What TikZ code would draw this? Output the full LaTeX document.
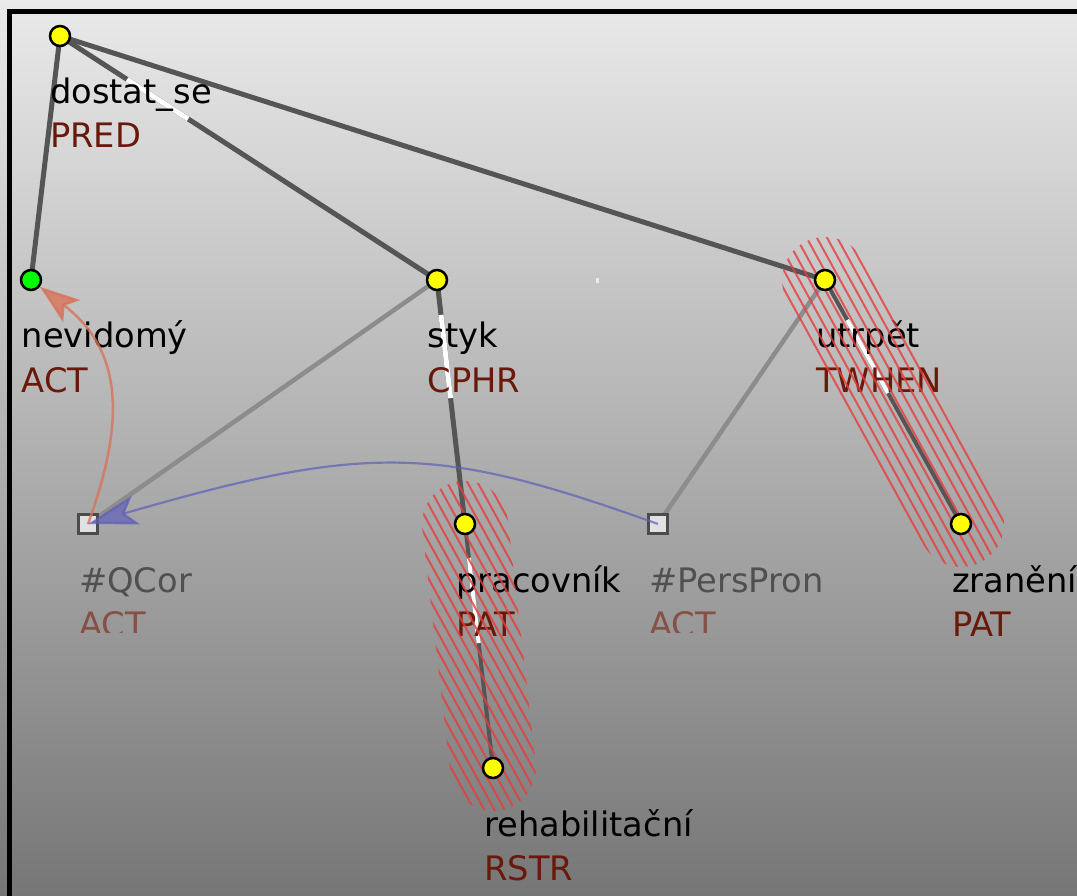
\documentclass[tikz,border=0pt]{standalone}
\usepackage{fontspec}
\setmainfont{DejaVu Sans}
\usetikzlibrary{arrows.meta,calc}
\definecolor{edgedark}{RGB}{85,85,85}
\definecolor{edgelight}{RGB}{140,140,140}
\definecolor{functor}{RGB}{105,25,10}
\definecolor{yel}{RGB}{255,255,0}
\definecolor{grn}{RGB}{0,255,0}
\definecolor{stripecol}{RGB}{232,60,60}
\definecolor{bluearr}{RGB}{95,95,185}
\definecolor{orarr}{RGB}{215,115,90}
\definecolor{graytext}{RGB}{80,80,80}
\definecolor{grayfunc}{RGB}{135,80,70}
\definecolor{bgtop}{RGB}{234,234,234}
\definecolor{bgbot}{RGB}{118,118,118}
\definecolor{sqborder}{RGB}{75,75,75}
\definecolor{sqfill}{RGB}{225,225,225}
\begin{document}
\begin{tikzpicture}[x=1pt,y=-1pt,
  tnode/.style={circle,draw=black,line width=2.5pt,fill=yel,minimum size=20pt,inner sep=0pt},
  gnode/.style={tnode,fill=grn},
  snode/.style={rectangle,draw=sqborder,line width=2.8pt,fill=sqfill,minimum size=19.5pt,inner sep=0pt},
  lemma/.style={anchor=base west,inner sep=0pt,font=\fontsize{33.7}{40}\selectfont},
  func/.style={lemma,text=functor},
  glemma/.style={lemma,text=graytext},
  gfunc/.style={lemma,text=grayfunc},
  edgeA/.style={draw=edgedark,line width=5pt},
  edgeB/.style={draw=edgedark,line width=4pt},
  edgeC/.style={draw=edgelight,line width=4.5pt},
  hl/.style={draw=white,line width=5pt},
  stripeln/.style={draw=stripecol,line width=2pt,opacity=.8},
]
\useasboundingbox (0,0) rectangle (1077,896);
\shade[top color=bgtop,bottom color=bgbot] (0,0) rectangle (1077,896);
\draw[line width=5pt,black] (9.5,905) -- (9.5,11.5) -- (1090,11.5);

% node positions
\coordinate (dostat) at (60,36);
\coordinate (nevid) at (31,280);
\coordinate (styk) at (437,280);
\coordinate (utrpet) at (825,280);
\coordinate (qcor) at (88,524);
\coordinate (prac) at (465,524);
\coordinate (pers) at (658,524);
\coordinate (zran) at (961,524);
\coordinate (rehab) at (493,768);

% edges
\draw[edgeC] (styk) -- (qcor);
\draw[edgeC] (utrpet) -- (pers);
\draw[edgeA] (dostat) -- (nevid);
\draw[edgeA] (dostat) -- (styk);
\draw[edgeA] (dostat) -- (utrpet);
\draw[edgeA] (styk) -- (prac);
\draw[edgeB] (utrpet) -- (zran);
\draw[edgeB] (prac) -- (rehab);

% white highlights on edges
\draw[hl] ($(dostat)!0.178!(styk)$) -- ($(dostat)!0.34!(styk)$);
\draw[hl] ($(styk)!0.143!(prac)$) -- ($(styk)!0.484!(prac)$);
\draw[hl,line width=4pt] ($(utrpet)!0.164!(zran)$) -- ($(utrpet)!0.463!(zran)$);
\draw[hl,line width=4pt] ($(prac)!0.139!(rehab)$) -- ($(prac)!0.488!(rehab)$);
\fill[white!85!gray] (596,278) rectangle (598.5,283);

% labels
\node[lemma] (dostatL) at ($(dostat)+(-10,68)$) {dostat\_se};
\node[func] (dostatF) at ($(dostat)+(-10,112)$) {PRED};
\node[lemma] (nevidL) at ($(nevid)+(-9.5,68)$) {nevidomý};
\node[func] (nevidF) at ($(nevid)+(-9.5,112)$) {ACT};
\node[lemma] (stykL) at ($(styk)+(-9.5,68)$) {styk};
\node[func] (stykF) at ($(styk)+(-9.5,112)$) {CPHR};
\node[lemma] (utrpetL) at ($(utrpet)+(-9,68)$) {utrpět};
\node[func] (utrpetF) at ($(utrpet)+(-9,112)$) {TWHEN};
\node[lemma] (pracL) at ($(prac)+(-9,68)$) {pracovník};
\node[func] (pracF) at ($(prac)+(-9,112)$) {PAT};
\node[lemma] (zranL) at ($(zran)+(-9,68)$) {zranění};
\node[func] (zranF) at ($(zran)+(-9,112)$) {PAT};
\node[lemma] (rehabL) at ($(rehab)+(-9,68)$) {rehabilitační};
\node[func] (rehabF) at ($(rehab)+(-9,112)$) {RSTR};
\begin{scope}
  \clip (0,0) rectangle (1077,632);
  \node[glemma] (qcorL) at ($(qcor)+(-9,68)$) {\#QCor};
  \node[gfunc] (qcorF) at ($(qcor)+(-9,112)$) {ACT};
  \node[glemma] (persL) at ($(pers)+(-9,68)$) {\#PersPron};
  \node[gfunc] (persF) at ($(pers)+(-9,112)$) {ACT};
\end{scope}

% hatched capsules
\begin{scope}
  \clip[shift={(utrpet)},rotate=-60.86,rounded corners=43pt]
    (140,-43) -- (322.3,-43) -- (322.3,43) -- (-43,43) -- (-43,-43) -- cycle;
  \foreach \k in {-80,...,80}
    \draw[stripeln] ($(utrpet)+(\k*10.2,-250)$) -- ++(330,600);
\end{scope}
\begin{scope}
  \clip[shift={(prac)},rotate=-83.45,rounded corners=43pt]
    (120,-43) -- (288.6,-43) -- (288.6,43) -- (-43,43) -- (-43,-43) -- cycle;
  \foreach \k in {-80,...,80}
    \draw[stripeln] ($(prac)+(\k*10.2,-250)$) -- ++(330,600);
\end{scope}

% nodes
\node[tnode] (dostatN) at (dostat) {};
\node[gnode] (nevidN) at (nevid) {};
\node[tnode] (stykN) at (styk) {};
\node[tnode] (utrpetN) at (utrpet) {};
\node[snode] (qcorN) at (qcor) {};
\node[tnode] (pracN) at (prac) {};
\node[snode] (persN) at (pers) {};
\node[tnode] (zranN) at (zran) {};
\node[tnode] (rehabN) at (rehab) {};

% coreference arrows
\draw[draw=orarr,line width=2.5pt,opacity=.8,
      -{Stealth[length=40pt,width=28pt,inset=9pt]}]
  (qcor) .. controls (124,425) and (125,352) .. (nevidN);
\draw[draw=bluearr,line width=2.2pt,opacity=.7,
      -{Stealth[length=50pt,width=30pt,inset=12pt]}]
  (pers) .. controls (440,446) and (370,442) .. (qcor);
\end{tikzpicture}
\end{document}
